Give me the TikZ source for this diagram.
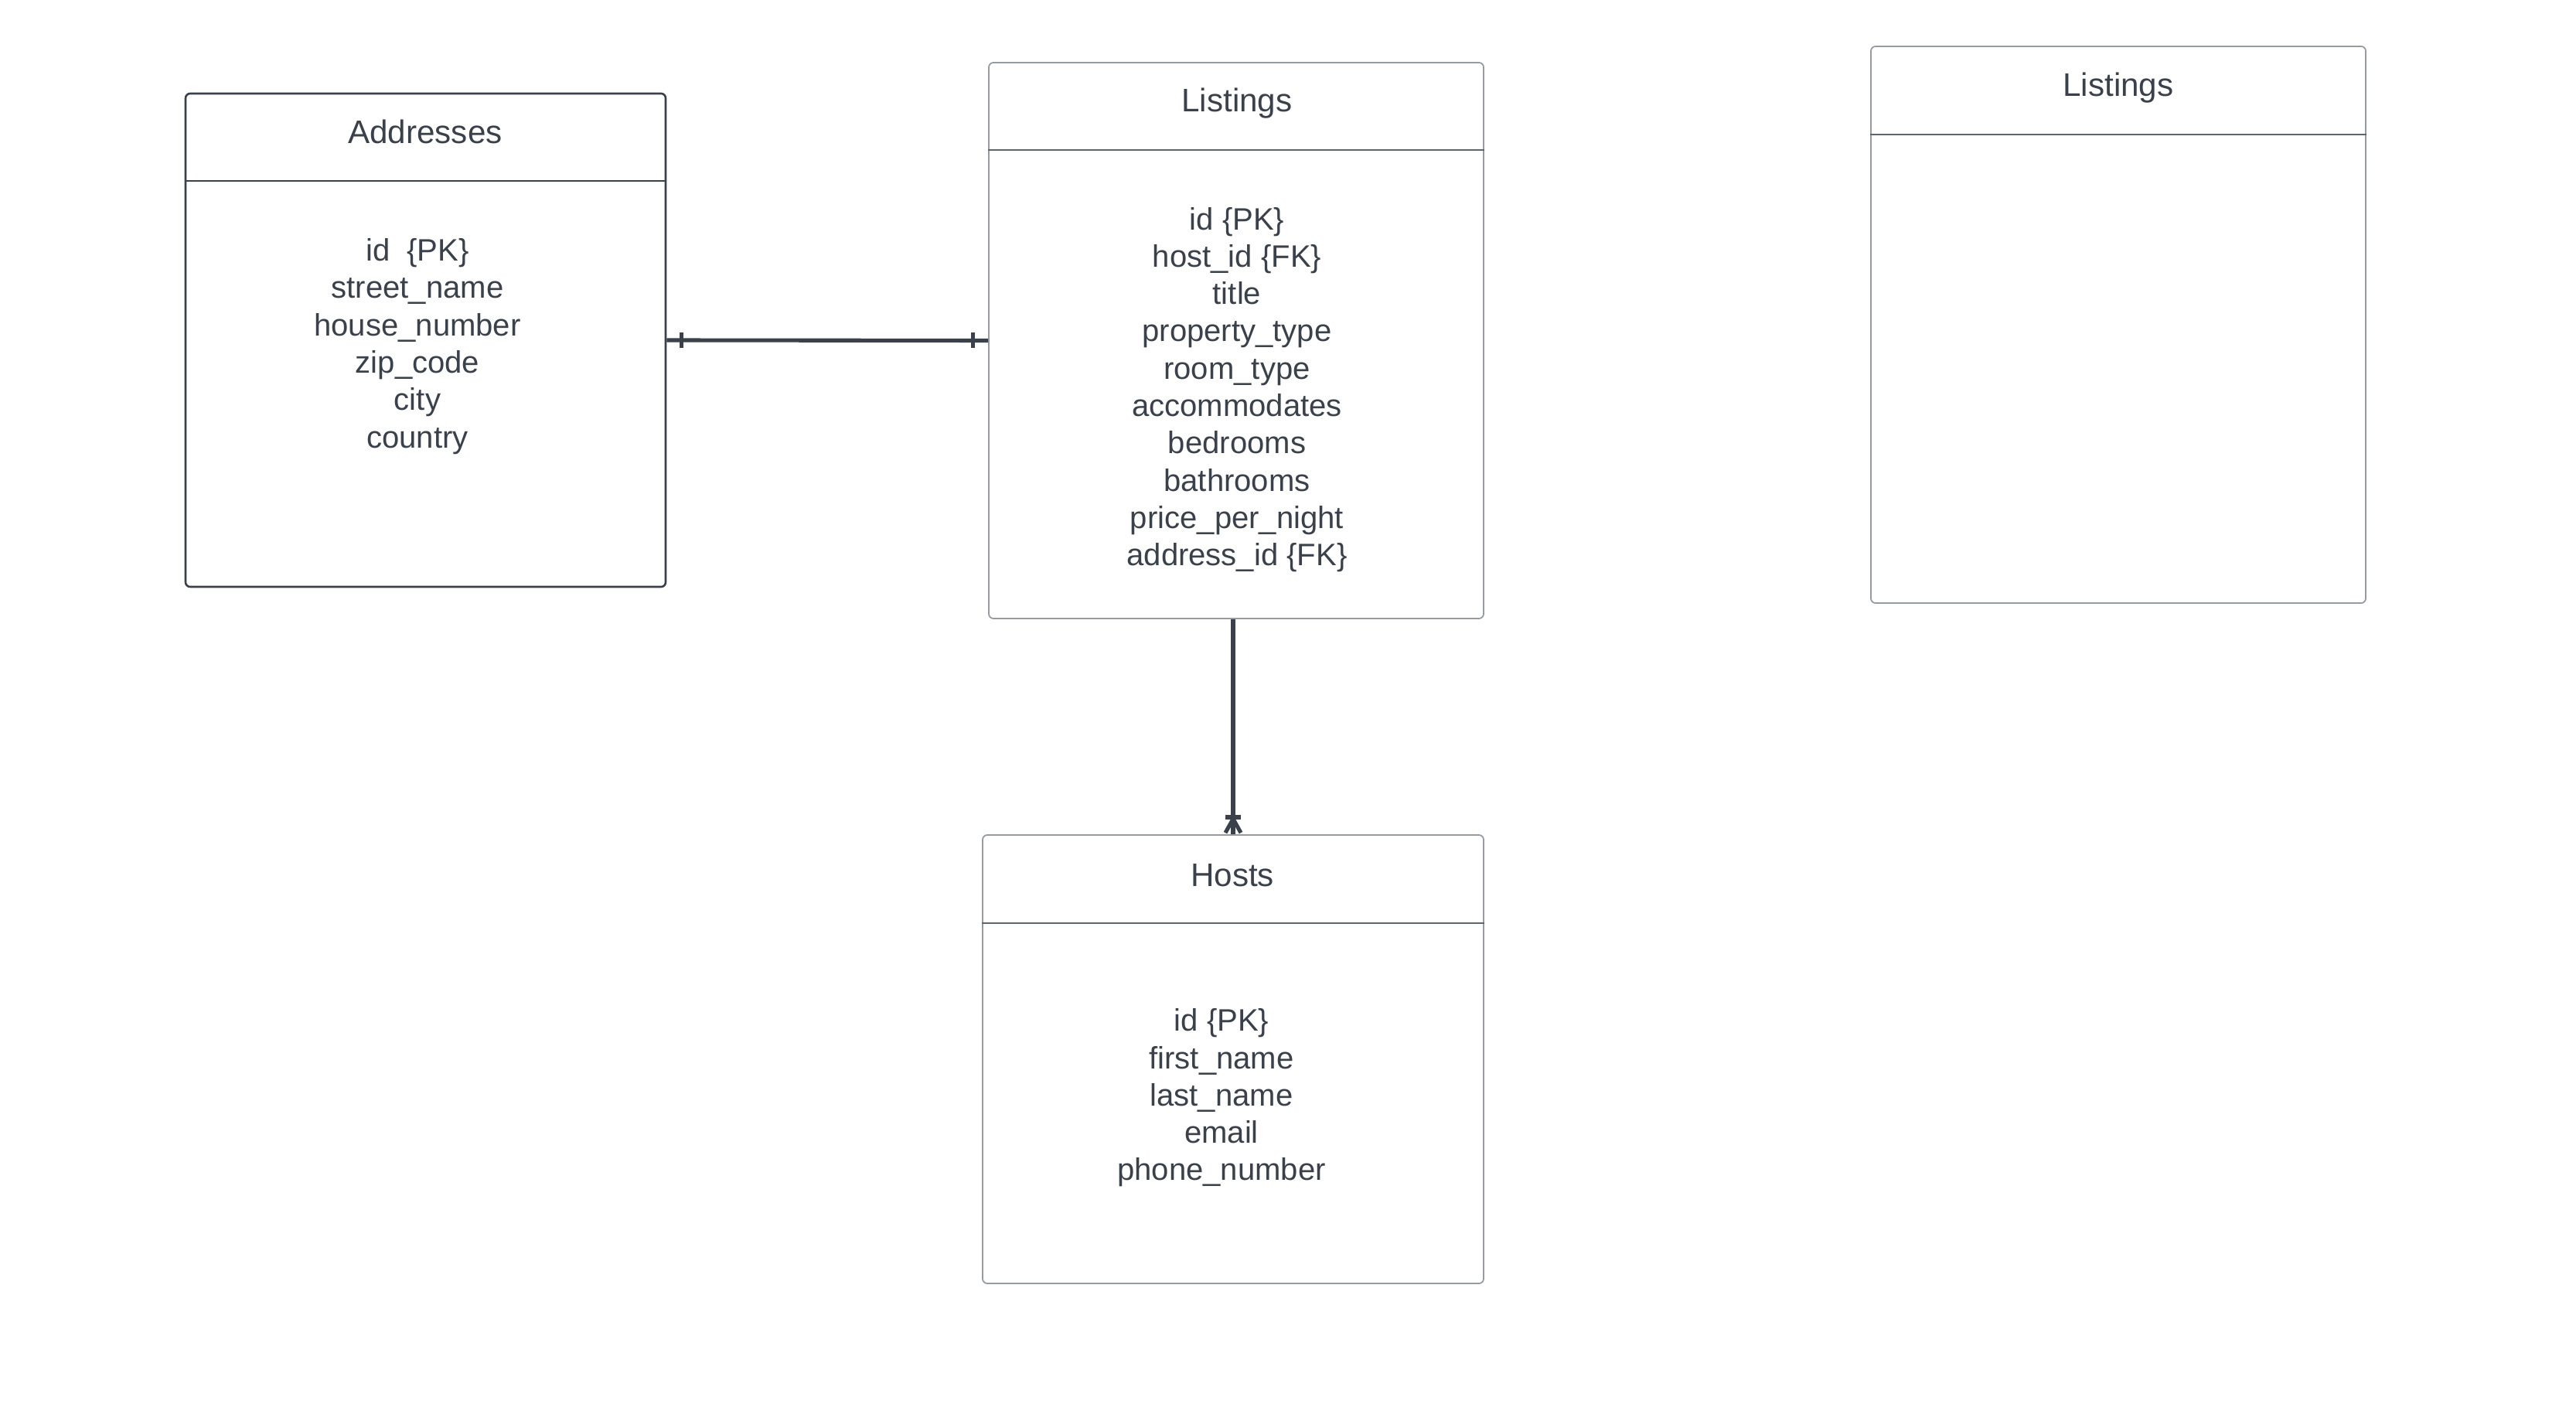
\documentclass[tikz,border=0pt]{standalone}
\usepackage{fontspec}
\setmainfont{Liberation Sans}
\usetikzlibrary{calc}
\definecolor{ink}{RGB}{58,65,74}
\definecolor{frame}{RGB}{150,155,162}
\definecolor{rule}{RGB}{95,101,110}
\begin{document}
\begin{tikzpicture}[
  txt/.style={text=ink, inner sep=0pt, align=center,
    font=\fontsize{11.4}{13.74}\selectfont},
  headtxt/.style={txt, font=\fontsize{12}{14}\selectfont},
  darkbox/.style={draw=ink, line width=0.75pt, rounded corners=0.06cm,
    inner sep=0pt},
  lightbox/.style={draw=frame, line width=0.5pt, rounded corners=0.06cm,
    inner sep=0pt},
  conn/.style={draw=ink, line width=1.45pt},
  tick/.style={draw=ink, line width=1.5pt}
]
\useasboundingbox[fill=white] (0,0) rectangle (33.32,-18.25);

% Addresses table
\node[darkbox, minimum width=6.21cm, minimum height=6.38cm] (addr) at (5.505,-4.40) {};
\draw[ink, line width=0.75pt] (addr.west |- 0,-2.34) -- (addr.east |- 0,-2.34);
\node[headtxt] (addrhead) at (5.50,-1.70) {Addresses};
\node[txt] (addrbody) at (5.40,-4.48) {id\ \ \{PK\}\\street\_name\\house\_number\\zip\_code\\city\\country};

% Listings table
\node[lightbox, minimum width=6.40cm, minimum height=7.19cm] (list) at (15.99,-4.405) {};
\draw[rule, line width=0.5pt] (list.west |- 0,-1.94) -- (list.east |- 0,-1.94);
\node[headtxt] (listhead) at (16.00,-1.34) {Listings};
\node[txt] (listbody) at (16.00,-5.04) {id \{PK\}\\host\_id \{FK\}\\title\\property\_type\\room\_type\\accommodates\\bedrooms\\bathrooms\\price\_per\_night\\address\_id \{FK\}};

% Second, empty Listings table
\node[lightbox, minimum width=6.40cm, minimum height=7.20cm] (list2) at (27.40,-4.20) {};
\draw[rule, line width=0.5pt] (list2.west |- 0,-1.74) -- (list2.east |- 0,-1.74);
\node[headtxt] (list2head) at (27.40,-1.14) {Listings};

% Hosts table
\node[lightbox, minimum width=6.48cm, minimum height=5.80cm] (hosts) at (15.95,-13.70) {};
\draw[rule, line width=0.5pt] (hosts.west |- 0,-11.94) -- (hosts.east |- 0,-11.94);
\node[headtxt] (hostshead) at (15.94,-11.32) {Hosts};
\node[txt] (hostsbody) at (15.80,-14.20) {id \{PK\}\\first\_name\\last\_name\\email\\phone\_number};

% Addresses -- Listings: one-to-one
\draw[conn] (addr.east) -- (list.west);
\draw[tick] ($(addr.east)+(0.19,0.10)$) -- ($(addr.east)+(0.19,-0.10)$);
\draw[tick] ($(list.west)+(-0.20,0.10)$) -- ($(list.west)+(-0.20,-0.10)$);

% Listings -- Hosts: crow's foot at Hosts
\coordinate (ltop) at (list.south -| hosts.north);
\draw[conn] (ltop) -- (hosts.north);
\draw[tick] ($(hosts.north)+(-0.10,0.22)$) -- ($(hosts.north)+(0.10,0.22)$);
\draw[conn] ($(hosts.north)+(0,0.20)$) -- ($(hosts.north)+(-0.10,0.02)$);
\draw[conn] ($(hosts.north)+(0,0.20)$) -- ($(hosts.north)+(0.10,0.02)$);
\end{tikzpicture}
\end{document}
